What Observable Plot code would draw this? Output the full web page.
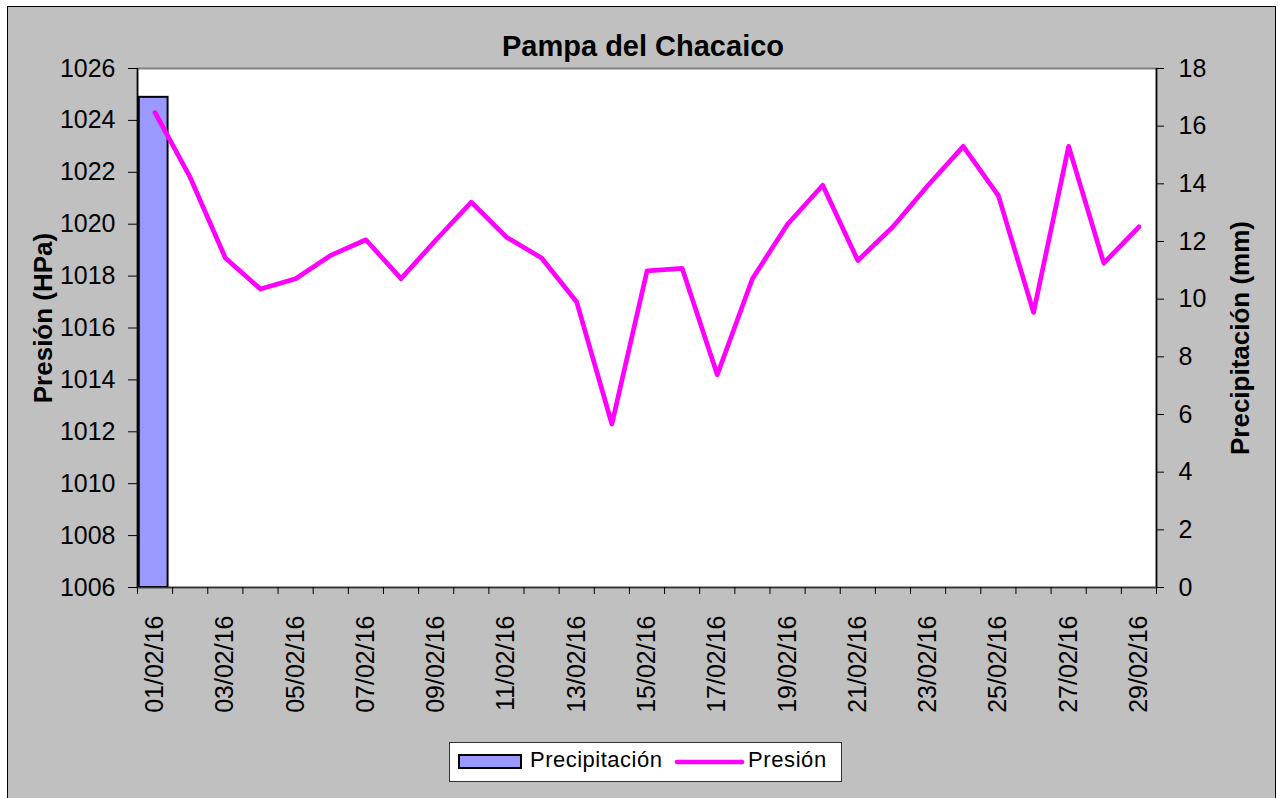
<!DOCTYPE html>
<html><head><meta charset="utf-8">
<script src="https://cdn.jsdelivr.net/npm/d3@7"></script>
<script src="https://cdn.jsdelivr.net/npm/@observablehq/plot@0.6"></script>
<style>
body{margin:0;background:#fff;font-family:"Liberation Sans",Arial,sans-serif;}
#wrap{position:relative;width:1278px;height:798px;overflow:hidden;}
#bg{position:absolute;left:7px;top:6px;width:1269px;height:800px;box-sizing:border-box;background:#c0c0c0;border:1px solid #000;}
#chart{position:absolute;left:0;top:0;}
.title{position:absolute;left:643px;top:32px;transform:translateX(-50%);font-weight:bold;font-size:29px;line-height:29px;white-space:nowrap;color:#000;}
.ylab{position:absolute;font-weight:bold;font-size:26px;line-height:26px;white-space:nowrap;transform:translate(-50%,-50%) rotate(-90deg);color:#000;}
#legend{position:absolute;left:449px;top:742px;}
</style>
</head><body>
<div id="wrap">
  <div id="bg"></div>
  <div id="chart"></div>
  <div class="title">Pampa del Chacaico</div>
  <div class="ylab" style="left:43px;top:318px;">Presión (HPa)</div>
  <div class="ylab" style="left:1240px;top:338px;">Precipitación (mm)</div>
  <svg id="legend" width="393" height="40" style="font-family:'Liberation Sans',Arial,sans-serif;">
    <rect x="0.5" y="0.5" width="392" height="39" fill="#fff" stroke="#333" stroke-width="1"/>
    <rect x="10" y="13" width="62" height="13" fill="#9999ff" stroke="#000" stroke-width="2"/>
    <text x="81" y="25" font-size="22" letter-spacing="0.5" fill="#000">Precipitación</text>
    <line x1="228" y1="20" x2="293" y2="20" stroke="#ff00ff" stroke-width="4.5" stroke-linecap="round"/>
    <text x="299" y="25" font-size="22" letter-spacing="0.6" fill="#000">Presión</text>
  </svg>
</div>
<script>
// Data
const dates = ["01/02/16","02/02/16","03/02/16","04/02/16","05/02/16","06/02/16","07/02/16","08/02/16","09/02/16","10/02/16",
  "11/02/16","12/02/16","13/02/16","14/02/16","15/02/16","16/02/16","17/02/16","18/02/16","19/02/16","20/02/16",
  "21/02/16","22/02/16","23/02/16","24/02/16","25/02/16","26/02/16","27/02/16","28/02/16","29/02/16"];
const pressure = [1024.3,1021.8,1018.7,1017.5,1017.9,1018.8,1019.4,1017.9,1019.4,1020.85,
  1019.5,1018.7,1017.0,1012.3,1018.2,1018.3,1014.2,1017.9,1020.0,1021.5,
  1018.6,1019.9,1021.5,1023.0,1021.1,1016.6,1023.0,1018.5,1019.9];
const precipitation = [17.0,0,0,0,0,0,0,0,0,0, 0,0,0,0,0,0,0,0,0,0, 0,0,0,0,0,0,0,0,0];
const pressureTicks = [1006,1008,1010,1012,1014,1016,1018,1020,1022,1024,1026];
const precipTicks = [0,2,4,6,8,10,12,14,16,18];

const P0 = 1006, P1 = 1026, R1 = 18;
const toP = v => P0 + v * (P1 - P0) / R1;
const fromP = p => Math.round((p - P0) * R1 / (P1 - P0));

const rows = dates.map((d, i) => ({day: i + 1, label: d, p: pressure[i], mm: precipitation[i]}));
const xDomain = [0.5, dates.length + 0.5];
const boundaries = d3.range(xDomain[0], xDomain[1] + 0.01, 1);
const labelDays = rows.filter(r => r.day % 2 === 1).map(r => r.day);

const chart = Plot.plot({
  width: 1278,
  height: 740,
  marginLeft: 137,
  marginRight: 122,
  marginTop: 68,
  marginBottom: 153,
  style: {background: "transparent", fontFamily: '"Liberation Sans", Arial, sans-serif', fontSize: "25px", color: "#000", overflow: "visible"},
  x: {domain: xDomain},
  y: {domain: [P0, P1]},
  marks: [
    Plot.frame({fill: "white", stroke: "#808080", strokeWidth: 2}),
    Plot.rectY(rows.filter(r => r.mm > 0), {x1: r => r.day - 0.45, x2: r => r.day + 0.37, y1: P0, y2: r => toP(r.mm), fill: "#9999ff", stroke: "#000", strokeWidth: 2}),
    Plot.line(rows, {x: "day", y: "p", stroke: "#ff00ff", strokeWidth: 4.7, strokeLinejoin: "round", strokeLinecap: "round"}),
    Plot.ruleX([xDomain[0]], {stroke: "#000", strokeWidth: 1.5}),
    Plot.ruleX([xDomain[1]], {stroke: "#000", strokeWidth: 1.5}),
    Plot.ruleY([P0], {stroke: "#333", strokeWidth: 1.5}),
    Plot.axisY(pressureTicks, {anchor: "left", tickSize: 9, tickPadding: 13, label: null, tickFormat: d => String(d)}),
    Plot.axisY(precipTicks.map(toP), {anchor: "right", tickSize: 7, tickPadding: 15, label: null, tickFormat: v => String(fromP(v))}),
    Plot.axisX(boundaries, {anchor: "bottom", tickSize: 7, label: null, tickFormat: () => ""}),
    Plot.axisX(labelDays, {anchor: "bottom", tickSize: 0, tickPadding: 28, tickRotate: -90, label: null, tickFormat: d => dates[d - 1]})
  ]
});
document.getElementById("chart").appendChild(chart);
</script>
</body></html>
